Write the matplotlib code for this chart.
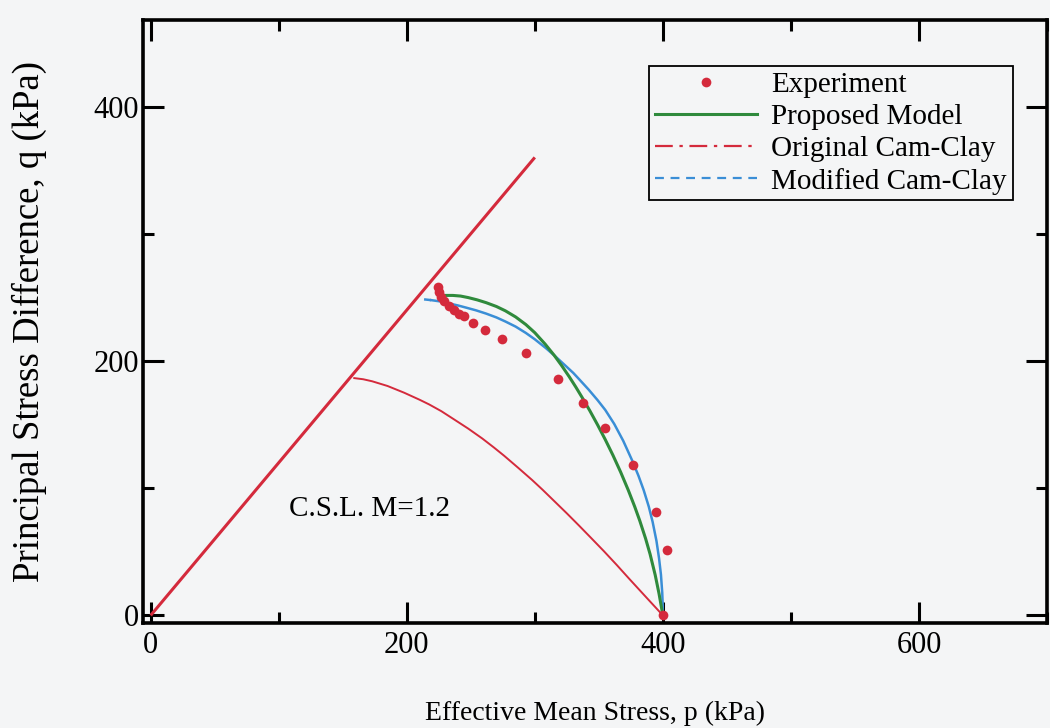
import matplotlib
matplotlib.use("Agg")
import matplotlib.pyplot as plt
from matplotlib.lines import Line2D
from matplotlib.ticker import MultipleLocator

plt.rcParams["font.family"] = ["Liberation Serif", "DejaVu Serif"]

# Critical state line, q = M p with M = 1.2
csl_p = [0, 300]
csl_q = [0, 360]

# Experimental stress path (p, q in kPa)
exp_p = [224, 225, 227, 229, 233, 237, 241, 245, 252, 261, 274, 293,
         318, 338, 355, 377, 395, 403, 400]
exp_q = [258, 254, 250, 247, 243, 240, 237, 235, 230, 224, 217, 206,
         186, 167, 147, 118, 81, 51, 0]

# Proposed model yield locus
prop_p = [225, 230, 236, 242, 248, 255, 262, 270, 277, 285, 293, 300, 308,
          315, 321, 327, 332, 337, 343, 349, 355, 361, 367, 373, 378, 382,
          386.5, 390, 394, 397, 400]
prop_q = [251, 251.5, 251.5, 251, 249.8, 248, 245.8, 242.8, 239.4, 234.6, 228.6, 222.2, 213.3,
          204.6, 196.3, 187.4, 179.5, 171.2, 160.8, 149.8, 138.2, 125.9, 112.7, 98.4, 85.5, 74.3,
          60.4, 48.2, 31.8, 17.1, 0]

# Original Cam-Clay yield locus
occ_p = [159, 166, 173, 185, 198, 210, 217.5, 227, 237, 248, 259, 268, 276,
         287, 298, 306, 315, 325, 334.5, 344, 354, 364, 373.5, 387, 400]
occ_q = [186.5, 185.6, 184, 180.3, 175, 169.5, 165.8, 160.5, 154, 146.8, 139, 132, 125.5,
         116, 106.3, 98.8, 90, 80.2, 70.6, 60.8, 50.4, 39.6, 29, 14.2, 0]

# Modified Cam-Clay yield locus (first segment dashed)
mcc_p = [213.5, 219, 226, 233, 240, 246, 254, 262, 270, 277, 285, 293, 300,
         308.5, 316, 324, 330, 335, 342, 349, 355, 362, 369, 376, 381, 385,
         389, 392, 395, 397, 398.5, 399.5, 399.9, 400]
mcc_q = [248.4, 247.8, 246.8, 245.2, 243.6, 242, 239.8, 237.2, 234.2, 231, 227, 222, 217,
         210.2, 203.6, 196.2, 190.6, 185.2, 177.5, 169.2, 161.5, 150.5, 137.3, 121.8, 109.6, 98.5,
         85.5, 73.5, 58.5, 45, 32, 18, 8, 0]

RED = "#d42a3c"
GREEN = "#2f8a3c"
BLUE = "#3a8ed6"
BG = "#f4f5f6"

fig = plt.figure(figsize=(10.5, 7.28), dpi=100, facecolor=BG)
ax = fig.add_axes([143 / 1050, 1 - 623 / 728, (1047 - 143) / 1050, (623 - 20) / 728])
ax.set_facecolor(BG)

ax.plot(csl_p, csl_q, color=RED, lw=2.2, solid_capstyle="butt")
ax.plot(occ_p, occ_q, color=RED, lw=1.4)
ax.plot(mcc_p[:2], mcc_q[:2], color=BLUE, lw=1.8, ls=(0, (3, 2)))
ax.plot(mcc_p[1:], mcc_q[1:], color=BLUE, lw=1.8)
ax.plot(prop_p, prop_q, color=GREEN, lw=2.2)
ax.plot(exp_p, exp_q, ls="none", marker="o", ms=7, color=RED, mec="none")

ax.text(108, 84, "C.S.L. M=1.2", fontsize=21, va="center", ha="left")

ax.set_xlim(-6, 700)
ax.set_ylim(-6, 468)
ax.xaxis.set_major_locator(MultipleLocator(200))
ax.xaxis.set_minor_locator(MultipleLocator(100))
ax.yaxis.set_major_locator(MultipleLocator(200))
ax.yaxis.set_minor_locator(MultipleLocator(100))
ax.tick_params(which="both", direction="in", top=True, right=True,
               labelsize=22, width=2.2, pad=6)
ax.tick_params(axis="y", pad=3)
ax.tick_params(which="major", length=15)
ax.tick_params(which="minor", length=8)
for s in ax.spines.values():
    s.set_linewidth(2.6)

ax.set_xlabel("Effective Mean Stress, p (kPa)", fontsize=20, labelpad=29)
ax.set_ylabel("Principal Stress Difference, q (kPa)", fontsize=26.5, labelpad=33)

handles = [
    Line2D([], [], ls="none", marker="o", ms=7, color=RED, mec="none"),
    Line2D([], [], color=GREEN, lw=2.2),
    Line2D([], [], color=RED, lw=1.6, ls=(0, (8, 3, 1.5, 3))),
    Line2D([], [], color=BLUE, lw=1.6, ls=(0, (4, 3))),
]
labels = ["Experiment", "Proposed Model", "Original Cam-Clay", "Modified Cam-Clay"]
leg = ax.legend(handles, labels, loc="upper right", bbox_to_anchor=(0.962, 0.924),
                fontsize=21, frameon=True, fancybox=False, shadow=False,
                handlelength=3.5, handletextpad=0.48, labelspacing=0.19,
                borderpad=0.2, borderaxespad=0)
leg.get_frame().set_edgecolor("black")
leg.get_frame().set_linewidth(1.3)
leg.get_frame().set_facecolor(BG)
leg.get_frame().set_alpha(1)

fig.savefig("out.png", dpi=100, facecolor=BG)
